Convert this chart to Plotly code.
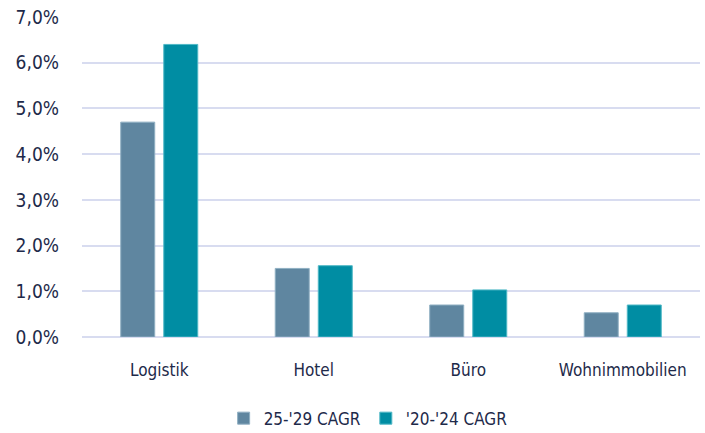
import plotly.graph_objects as go

categories = ["Logistik", "Hotel", "Büro", "Wohnimmobilien"]
cagr_25_29 = [4.7, 1.5, 0.7, 0.53]
cagr_20_24 = [6.4, 1.56, 1.03, 0.7]
y_ticks = [0, 1, 2, 3, 4, 5, 6, 7]
y_tick_labels = ["0,0%", "1,0%", "2,0%", "3,0%", "4,0%", "5,0%", "6,0%", "7,0%"]

text_color = "#1E2A4A"
font_family = "DejaVu Sans Condensed, sans-serif"

fig = go.Figure()
fig.add_bar(
    x=categories, y=cagr_25_29, name="25-'29 CAGR",
    marker=dict(color="#5F86A0", line=dict(color="#8FAFC2", width=1)),
)
fig.add_bar(
    x=categories, y=cagr_20_24, name="'20-'24 CAGR",
    marker=dict(color="#008DA3", line=dict(color="#4FB8C6", width=1)),
)

fig.update_layout(
    width=705, height=433,
    margin=dict(l=82, r=5, t=17, b=96, autoexpand=False),
    paper_bgcolor="white", plot_bgcolor="white",
    barmode="group", bargap=0.443, bargroupgap=0.21,
    font=dict(family=font_family, size=17, color=text_color),
    showlegend=True,
    legend=dict(
        orientation="h", x=0.463, xanchor="center", y=-0.255, yanchor="middle",
        font=dict(size=17, color=text_color), itemwidth=30,
        traceorder="normal",
    ),
)
fig.update_xaxes(
    showgrid=False, showline=False, ticks="", ticklabelstandoff=21,
    tickfont=dict(size=17, color=text_color),
)
fig.update_yaxes(
    range=[0, 7], tickvals=y_ticks, ticktext=y_tick_labels,
    showgrid=True, gridcolor="#D8DCF0", gridwidth=1.5,
    zeroline=True, zerolinecolor="#D8DCF0", zerolinewidth=1.5,
    showline=False, ticks="", ticklabelstandoff=22,
    tickfont=dict(size=19, color=text_color),
)

fig.write_html("out.html")
